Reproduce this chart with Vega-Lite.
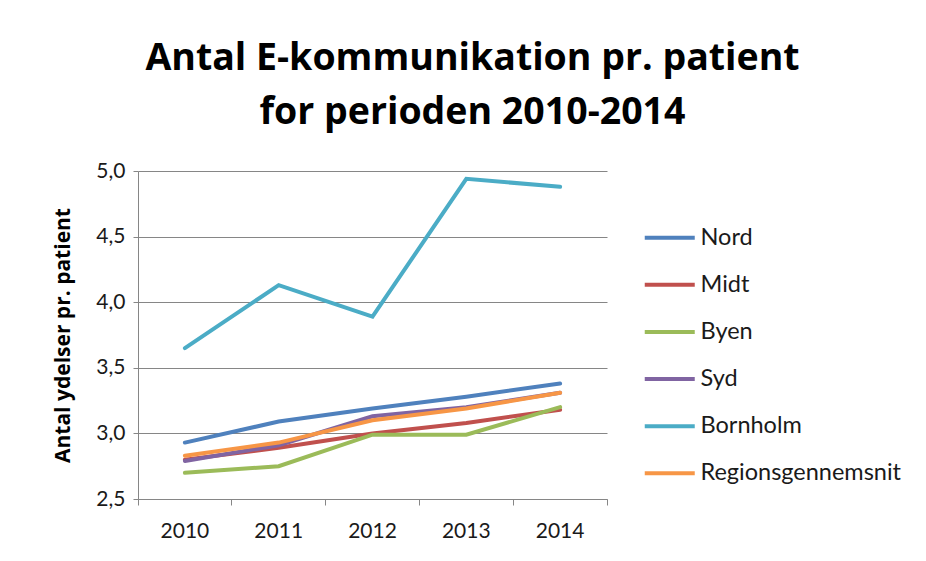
{
  "$schema": "https://vega.github.io/schema/vega-lite/v6.json",
  "width": 469,
  "height": 328,
  "autosize": {"type": "none"},
  "padding": {"left": 138, "top": 171, "right": 319, "bottom": 62},
  "background": "white",
  "title": {
    "text": ["Antal E-kommunikation pr. patient", "for perioden 2010-2014"],
    "font": "Open Sans",
    "fontSize": 37.5,
    "fontWeight": "bold",
    "color": "#000000",
    "anchor": "middle",
    "dx": 100,
    "offset": 29,
    "lineHeight": 54
  },
  "data": {
    "values": [
      {"region": "Nord", "year": "2010", "value": 2.93},
      {"region": "Nord", "year": "2011", "value": 3.09},
      {"region": "Nord", "year": "2012", "value": 3.19},
      {"region": "Nord", "year": "2013", "value": 3.28},
      {"region": "Nord", "year": "2014", "value": 3.38},
      {"region": "Midt", "year": "2010", "value": 2.80},
      {"region": "Midt", "year": "2011", "value": 2.89},
      {"region": "Midt", "year": "2012", "value": 3.00},
      {"region": "Midt", "year": "2013", "value": 3.08},
      {"region": "Midt", "year": "2014", "value": 3.18},
      {"region": "Byen", "year": "2010", "value": 2.70},
      {"region": "Byen", "year": "2011", "value": 2.75},
      {"region": "Byen", "year": "2012", "value": 2.99},
      {"region": "Byen", "year": "2013", "value": 2.99},
      {"region": "Byen", "year": "2014", "value": 3.20},
      {"region": "Syd", "year": "2010", "value": 2.79},
      {"region": "Syd", "year": "2011", "value": 2.91},
      {"region": "Syd", "year": "2012", "value": 3.13},
      {"region": "Syd", "year": "2013", "value": 3.20},
      {"region": "Syd", "year": "2014", "value": 3.31},
      {"region": "Bornholm", "year": "2010", "value": 3.65},
      {"region": "Bornholm", "year": "2011", "value": 4.13},
      {"region": "Bornholm", "year": "2012", "value": 3.89},
      {"region": "Bornholm", "year": "2013", "value": 4.94},
      {"region": "Bornholm", "year": "2014", "value": 4.88},
      {"region": "Regionsgennemsnit", "year": "2010", "value": 2.83},
      {"region": "Regionsgennemsnit", "year": "2011", "value": 2.93},
      {"region": "Regionsgennemsnit", "year": "2012", "value": 3.10},
      {"region": "Regionsgennemsnit", "year": "2013", "value": 3.19},
      {"region": "Regionsgennemsnit", "year": "2014", "value": 3.31}
    ]
  },
  "mark": {"type": "line", "strokeWidth": 4, "strokeCap": "round", "strokeJoin": "miter"},
  "encoding": {
    "x": {
      "field": "year",
      "type": "ordinal",
      "scale": {"type": "band", "paddingInner": 0, "paddingOuter": 0},
      "axis": {
        "title": null,
        "labelAngle": 0,
        "labelFont": "Lato",
        "labelFontSize": 21,
        "labelColor": "#1a1a1a",
        "labelPadding": 15,
        "bandPosition": 1,
        "tickExtra": true,
        "tickSize": 6,
        "tickColor": "#868686",
        "domainColor": "#868686",
        "grid": false
      }
    },
    "y": {
      "field": "value",
      "type": "quantitative",
      "scale": {"domain": [2.5, 5.0], "nice": false, "zero": false},
      "axis": {
        "title": "Antal ydelser pr. patient",
        "titleFont": "Open Sans",
        "titleFontSize": 21,
        "titleFontWeight": "bold",
        "titleColor": "#000000",
        "titlePadding": 22,
        "values": [2.5, 3.0, 3.5, 4.0, 4.5, 5.0],
        "labelExpr": "replace(format(datum.value, '.1f'), '.', ',')",
        "labelFont": "Lato",
        "labelFontSize": 21,
        "labelColor": "#1a1a1a",
        "labelPadding": 8,
        "tickSize": 5,
        "tickColor": "#868686",
        "domainColor": "#868686",
        "gridColor": "#868686",
        "gridOpacity": 1
      }
    },
    "color": {
      "field": "region",
      "type": "nominal",
      "scale": {
        "domain": ["Nord", "Midt", "Byen", "Syd", "Bornholm", "Regionsgennemsnit"],
        "range": ["#4F81BD", "#C0504D", "#9BBB59", "#8064A2", "#4BACC6", "#F79646"]
      },
      "legend": {
        "title": null,
        "orient": "none",
        "legendX": 520,
        "legendY": 55,
        "symbolType": "M-5,0H5",
        "symbolSize": 100,
        "symbolStrokeWidth": 4,
        "labelFont": "Lato",
        "labelFontSize": 23.5,
        "labelColor": "#1a1a1a",
        "labelOffset": 19,
        "labelLimit": 0,
        "rowPadding": 22.1
      }
    }
  },
  "config": {
    "view": {"stroke": null}
  }
}
